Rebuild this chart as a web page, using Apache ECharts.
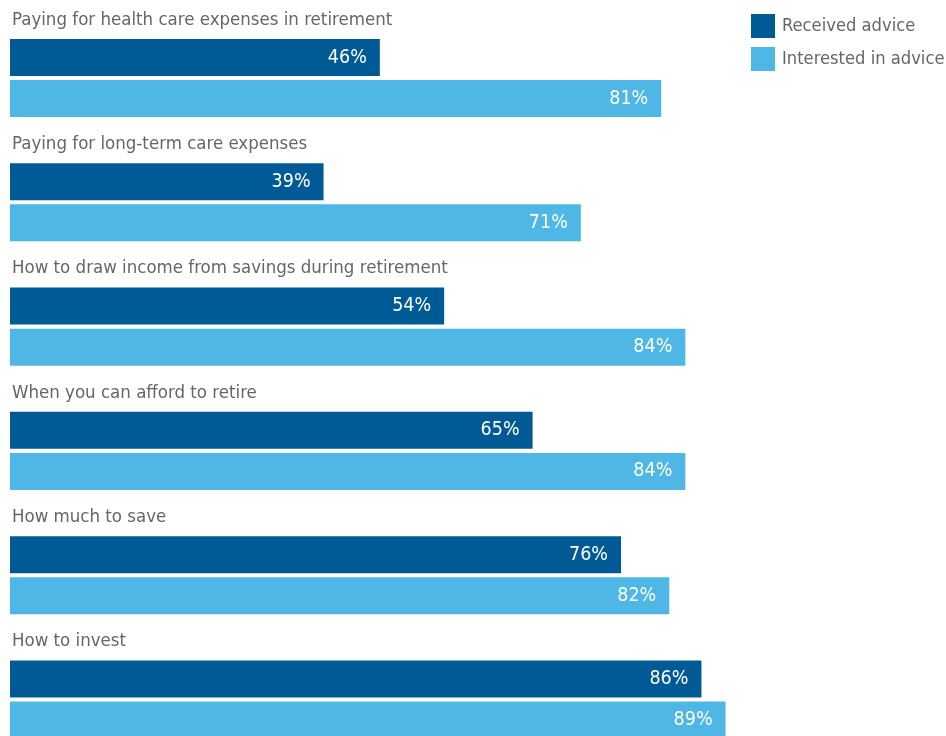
<!DOCTYPE html>
<html>
<head>
<meta charset="utf-8">
<script src="https://cdn.jsdelivr.net/npm/echarts@6/dist/echarts.min.js"></script>
<style>html,body{margin:0;padding:0;background:#fff}#c{width:946px;height:736px}</style>
</head>
<body>
<div id="c"></div>
<script>
var categories = [
  "Paying for health care expenses in retirement",
  "Paying for long-term care expenses",
  "How to draw income from savings during retirement",
  "When you can afford to retire",
  "How much to save",
  "How to invest"
];
var receivedAdvice = [46, 39, 54, 65, 76, 86];
var interestedInAdvice = [81, 71, 84, 84, 82, 89];
var seriesNames = ["Received advice", "Interested in advice"];

var FONT = '"DejaVu Sans Condensed", "Liberation Sans", sans-serif';
var chart = echarts.init(document.getElementById('c'), null, {renderer: 'canvas'});
var valueLabel = {
  show: true, position: 'insideRight', distance: 13,
  color: '#ffffff', fontSize: 19.5, fontFamily: FONT,
  formatter: function (p) { return p.value + '%'; }
};
chart.setOption({
  animation: false,
  legend: {
    data: seriesNames, orient: 'vertical', left: 746, top: 9,
    itemWidth: 24, itemHeight: 24, itemGap: 9, icon: 'rect',
    textStyle: {color: '#666666', fontSize: 18.2, fontFamily: FONT, padding: [0, 0, 0, 2]}
  },
  grid: {left: 10, right: 132, top: 78, height: 621.5, containLabel: false, outerBoundsMode: 'none'},
  xAxis: {type: 'value', min: 0, max: 100, show: false},
  yAxis: {
    type: 'category', data: categories, inverse: true, boundaryGap: false,
    axisLine: {show: false}, axisTick: {show: false}, splitLine: {show: false},
    axisLabel: {
      inside: true, margin: 2, align: 'left', verticalAlign: 'middle',
      interval: 0, showMinLabel: true, showMaxLabel: true, hideOverlap: false,
      formatter: function (v) { return '{t|' + v + '}\n{s|}'; },
      rich: {
        t: {color: '#666666', fontSize: 18.5, fontFamily: FONT, height: 24, lineHeight: 24},
        s: {height: 116, lineHeight: 116}
      }
    }
  },
  series: [
    {name: seriesNames[0], type: 'bar', data: receivedAdvice, barWidth: 37, barGap: '11%', clip: false,
     itemStyle: {color: '#005a96'}, label: valueLabel, z: 3},
    {name: seriesNames[1], type: 'bar', data: interestedInAdvice, barWidth: 37, barGap: '11%', clip: false,
     itemStyle: {color: '#4eb7e6'}, label: valueLabel, z: 3}
  ]
});
</script>
</body>
</html>
